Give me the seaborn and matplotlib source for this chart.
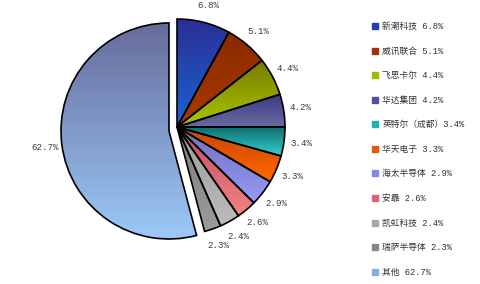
import numpy as np
import matplotlib
matplotlib.use("Agg")
import matplotlib.pyplot as plt
from matplotlib.colors import LinearSegmentedColormap
from matplotlib.lines import Line2D
import seaborn as sns

sns.set_theme(style="white")
plt.rcParams['font.family'] = ['Liberation Mono', 'Noto Sans CJK SC', 'DejaVu Sans']

# ---- data ----
companies = ["新潮科技", "威讯联合", "飞思卡尔", "华达集团", "英特尔（成都）",
             "华天电子", "海太半导体", "安靠", "凯虹科技", "瑞萨半导体", "其他"]
shares = [6.8, 5.1, 4.4, 4.2, 3.4, 3.3, 2.9, 2.6, 2.4, 2.3, 62.7]
# slice sizes as drawn in the picture (angles)
slice_sizes = [7.97, 6.44, 5.69, 4.89, 4.33, 4.14, 3.92, 2.97, 3.03, 2.50, 54.1]
legend_labels = ["新潮科技 6.8%", "威讯联合 5.1%", "飞思卡尔 4.4%", "华达集团 4.2%",
                 "英特尔（成都）3.4%", "华天电子 3.3%", "海太半导体 2.9%", "安靠 2.6%",
                 "凯虹科技 2.4%", "瑞萨半导体 2.3%", "其他 62.7%"]

grad_top = ['#2b2f95', '#8a2a00', '#7a7a00', '#3a3a8a', '#0e6a6a', '#c84400',
            '#6e6ec0', '#c04a64', '#9c9c9c', '#7c7c7c', '#666b9a']
grad_bot = ['#1a64d2', '#a83a00', '#a8c800', '#6a6a9e', '#38d0d0', '#ff6a00',
            '#9a9af8', '#f48484', '#bcbcbc', '#9c9c9c', '#9ccaf8']
legend_colors = ['#2040c0', '#a03010', '#99bb00', '#5050a0', '#20b0b0', '#e05a10',
                 '#8888e8', '#e06078', '#a8a8a8', '#888888', '#88aaee']

W, H = 480, 284
fig = plt.figure(figsize=(W / 100, H / 100), dpi=100)
fig.patch.set_facecolor('white')
ax = fig.add_axes([0, 0, 1, 1])
R = 108.0
cx, cy = 177.0, 127.0


def set_limits():
    ax.set_xlim(-cx / R, (W - cx) / R)
    ax.set_ylim(-(H - cy) / R, cy / R)
    ax.set_aspect('equal')


set_limits()
ax.axis('off')

labels = [f"{s}%" for s in shares]
wedges, texts = ax.pie(slice_sizes, labels=labels, startangle=90, counterclock=False,
                       labeldistance=1.16,
                       wedgeprops=dict(edgecolor='black', linewidth=1.2, facecolor='none'),
                       textprops=dict(fontsize=6.6, color='#3a3a3a'))
set_limits()

# explode the big slice
off = (-8 / R, -4 / R)
wedges[-1].set_center(off)
tx, ty = texts[-1].get_position()
texts[-1].set_position((tx + off[0], ty + off[1]))
for t in texts:
    t.set_horizontalalignment('center')
    t.set_verticalalignment('center')

# vertical gradient fills clipped to wedges (top colour -> bottom colour)
grad = np.linspace(0, 1, 256).reshape(-1, 1)
for w, c0, c1 in zip(wedges, grad_top, grad_bot):
    w.set_zorder(3)
    verts = w.get_patch_transform().transform(w.get_path().vertices)
    x0, y0 = verts.min(axis=0)
    x1, y1 = verts.max(axis=0)
    cmap = LinearSegmentedColormap.from_list('g', [c1, c0])
    im = ax.imshow(grad, extent=[x0, x1, y0, y1], origin='lower', cmap=cmap,
                   aspect='auto', zorder=2, interpolation='bilinear')
    im.set_clip_path(w)
set_limits()

handles = [Line2D([0], [0], marker='s', linestyle='none', markersize=4,
                  markerfacecolor=c, markeredgecolor=c) for c in legend_colors]
leg = fig.legend(handles, legend_labels, loc='upper left',
                 bbox_to_anchor=(371 / W, 1 - 22 / H), frameon=False,
                 fontsize=6.3, labelspacing=1.78, handlelength=0.8,
                 handletextpad=0.5, borderpad=0, borderaxespad=0)
for t in leg.get_texts():
    t.set_color('#333333')

fig.savefig('out.png', dpi=100)
